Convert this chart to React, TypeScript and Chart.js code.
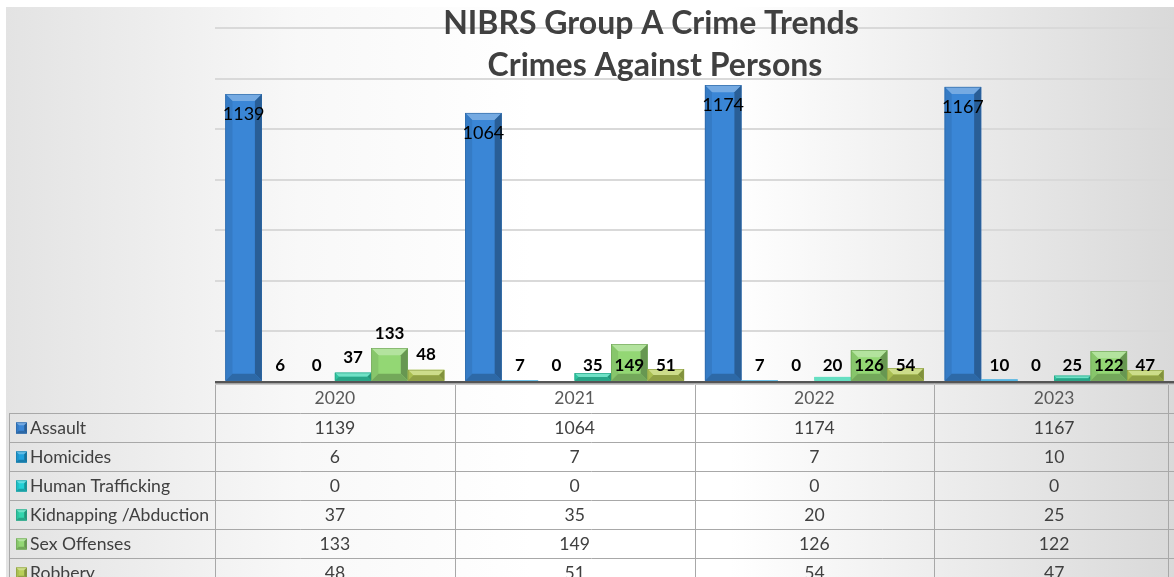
import React, { useEffect, useRef } from "react";
import { Chart, registerables } from "chart.js";

Chart.register(...registerables);

// ---------- data ----------
const years = ["2020", "2021", "2022", "2023"];
const seriesNames = ["Assault", "Homicides", "Human Trafficking", "Kidnapping /Abduction", "Sex Offenses", "Robbery"];
const assault = [1139, 1064, 1174, 1167];
const homicides = [6, 7, 7, 10];
const humanTrafficking = [0, 0, 0, 0];
const kidnapping = [37, 35, 20, 25];
const sexOffenses = [133, 149, 126, 122];
const robbery = [48, 51, 54, 47];
const seriesValues = [assault, homicides, humanTrafficking, kidnapping, sexOffenses, robbery];
const seriesColors = ["#3a86d6", "#1fa0dc", "#22d0d6", "#33d4ad", "#93d774", "#b8cf58"];
const titleLines = ["NIBRS Group A Crime Trends", "Crimes Against Persons"];
const yMax = 1400;
const yStep = 200;
// years whose small-bar labels sit just above the bars (others share a common row)
const raisedLabelYears = ["2020"];

const FONT = "Lato, 'Open Sans', sans-serif";

function hexToRgb(h: string) {
  const n = parseInt(h.slice(1), 16);
  return [(n >> 16) & 255, (n >> 8) & 255, n & 255];
}
function mix(h: string, target: number, t: number) {
  const [r, g, b] = hexToRgb(h);
  const f = (c: number) => Math.round(c + (target - c) * t);
  return `rgb(${f(r)},${f(g)},${f(b)})`;
}

function drawBevelRect(ctx: CanvasRenderingContext2D, x0: number, y0: number, x1: number, y1: number, color: string, bMax: number) {
  const w = x1 - x0;
  const h = y1 - y0;
  if (h <= 0.5 || w <= 0) return;
  ctx.save();
  ctx.fillStyle = color;
  ctx.fillRect(x0, y0, w, h);
  if (h < 4) {
    ctx.fillStyle = mix(color, 255, 0.25);
    ctx.fillRect(x0, y0, w, h);
    ctx.restore();
    return;
  }
  const b = Math.max(0.5, Math.min(bMax, h / 2, w / 4));
  const poly = (pts: number[][], fill: string) => {
    ctx.beginPath();
    ctx.moveTo(pts[0][0], pts[0][1]);
    for (let i = 1; i < pts.length; i++) ctx.lineTo(pts[i][0], pts[i][1]);
    ctx.closePath();
    ctx.fillStyle = fill;
    ctx.fill();
  };
  // top (light)
  poly([[x0, y0], [x1, y0], [x1 - b, y0 + b], [x0 + b, y0 + b]], mix(color, 255, 0.3));
  // left (slightly dark)
  poly([[x0, y0], [x0 + b, y0 + b], [x0 + b, y1 - b], [x0, y1]], mix(color, 0, 0.08));
  // right (dark)
  poly([[x1, y0], [x1, y1], [x1 - b, y1 - b], [x1 - b, y0 + b]], mix(color, 0, 0.3));
  // bottom (dark)
  poly([[x0, y1], [x1, y1], [x1 - b, y1 - b], [x0 + b, y1 - b]], mix(color, 0, 0.22));
  ctx.strokeStyle = mix(color, 0, 0.25);
  ctx.lineWidth = 0.6;
  ctx.strokeRect(x0 + 0.3, y0 + 0.3, w - 0.6, h - 0.6);
  ctx.restore();
}

const backgroundPlugin = {
  id: "bgPlugin",
  beforeDraw(chart: any) {
    const { ctx, width, height } = chart;
    ctx.save();
    ctx.fillStyle = "#ffffff";
    ctx.fillRect(0, 0, width, height);
    const g = ctx.createLinearGradient(6, 0, width, 0);
    g.addColorStop(0, "#e3e3e3");
    g.addColorStop(0.25, "#f8f8f8");
    g.addColorStop(0.45, "#ffffff");
    g.addColorStop(0.62, "#ffffff");
    g.addColorStop(1, "#d9d9d9");
    ctx.fillStyle = g;
    ctx.fillRect(6, 7, width - 6, height - 7);
    ctx.restore();
  },
};

const barsPlugin = {
  id: "barsPlugin",
  afterDatasetsDraw(chart: any) {
    const ctx: CanvasRenderingContext2D = chart.ctx;
    const yScale = chart.scales.y;
    const baseline = yScale.getPixelForValue(0);
    chart.data.datasets.forEach((ds: any, di: number) => {
      const meta = chart.getDatasetMeta(di);
      meta.data.forEach((el: any) => {
        const p = el.getProps(["x", "y", "base", "width"], true);
        const x0 = p.x - p.width / 2;
        const x1 = p.x + p.width / 2;
        const top = Math.min(p.y, p.base);
        const bot = Math.max(p.y, p.base);
        drawBevelRect(ctx, x0, top, x1, bot, seriesColors[di], 7);
      });
    });
    // labels
    ctx.save();
    ctx.textAlign = "center";
    ctx.textBaseline = "middle";
    ctx.fillStyle = "#000000";
    chart.data.datasets.forEach((ds: any, di: number) => {
      const meta = chart.getDatasetMeta(di);
      meta.data.forEach((el: any, i: number) => {
        const v = ds.data[i];
        const p = el.getProps(["x", "y"], true);
        let ly: number;
        if (di === 0) {
          ctx.font = `400 18px ${FONT}`;
          ly = p.y + 20;
        } else {
          ctx.font = `700 17px ${FONT}`;
          ly = raisedLabelYears.includes(years[i]) ? Math.min(baseline - 16, p.y - 15) : baseline - 16;
        }
        ctx.fillText(String(v), p.x, ly);
      });
    });
    ctx.restore();
  },
};

const tablePlugin = {
  id: "tablePlugin",
  afterDraw(chart: any) {
    const ctx: CanvasRenderingContext2D = chart.ctx;
    const xs = chart.scales.x;
    const area = chart.chartArea;
    const baseline = chart.scales.y.getPixelForValue(0);
    const headerH = 31;
    const rowH = 29;
    const left = 9;
    const right = chart.width;
    const bottom = chart.height;
    const half = (xs.getPixelForValue(1) - xs.getPixelForValue(0)) / 2;
    ctx.save();
    ctx.strokeStyle = "#a8a8a8";
    ctx.lineWidth = 1;
    // vertical lines
    const bounds = years.map((_, i) => xs.getPixelForValue(i) - half);
    bounds.forEach((bx) => {
      ctx.beginPath();
      ctx.moveTo(Math.round(bx) + 0.5, baseline + 1);
      ctx.lineTo(Math.round(bx) + 0.5, bottom);
      ctx.stroke();
    });
    ctx.beginPath();
    ctx.moveTo(1168.5, baseline + 1);
    ctx.lineTo(1168.5, bottom);
    ctx.stroke();
    ctx.beginPath();
    ctx.moveTo(left + 0.5, baseline + headerH);
    ctx.lineTo(left + 0.5, bottom);
    ctx.stroke();
    // light line under baseline
    ctx.strokeStyle = "#c8c8c8";
    ctx.beginPath();
    ctx.moveTo(area.left, baseline + 2.5);
    ctx.lineTo(right, baseline + 2.5);
    ctx.stroke();
    ctx.strokeStyle = "#a8a8a8";
    // horizontal lines
    for (let r = 0; r < seriesNames.length; r++) {
      const y = Math.round(baseline + headerH + r * rowH) + 0.5;
      ctx.beginPath();
      ctx.moveTo(left, y);
      ctx.lineTo(right, y);
      ctx.stroke();
    }
    // header text
    ctx.textAlign = "center";
    ctx.textBaseline = "middle";
    ctx.font = `400 17.5px ${FONT}`;
    ctx.fillStyle = "#595959";
    years.forEach((yr, i) => {
      ctx.fillText(yr, xs.getPixelForValue(i), baseline + headerH / 2 + 1);
    });
    // rows
    seriesNames.forEach((name, r) => {
      const cy = baseline + headerH + r * rowH + rowH / 2 + 1;
      drawBevelRect(ctx, 16, cy - 6, 27, cy + 5, seriesColors[r], 3);
      ctx.textAlign = "left";
      ctx.fillStyle = "#404040";
      ctx.font = `400 17.6px ${FONT}`;
      ctx.fillText(name, 30, cy);
      ctx.textAlign = "center";
      seriesValues[r].forEach((v, i) => {
        ctx.fillText(String(v), xs.getPixelForValue(i), cy);
      });
    });
    // title
    ctx.textAlign = "center";
    ctx.textBaseline = "alphabetic";
    ctx.fillStyle = "#404040";
    ctx.font = `700 32px ${FONT}`;
    ctx.fillText(titleLines[0], 651, 34);
    ctx.fillText(titleLines[1], 655, 76);
    ctx.restore();
  },
};

export default function App() {
  const ref = useRef<HTMLCanvasElement>(null);
  useEffect(() => {
    document.body.style.margin = "0";
    const canvas = ref.current;
    if (!canvas) return;
    const chart = new Chart(canvas, {
      type: "bar",
      data: {
        labels: years,
        datasets: seriesNames.map((name, i) => ({
          label: name,
          data: seriesValues[i],
          backgroundColor: "rgba(0,0,0,0)",
          borderWidth: 0,
          categoryPercentage: 0.913,
          barPercentage: 1,
        })),
      },
      options: {
        responsive: false,
        animation: false,
        devicePixelRatio: 1,
        layout: { padding: { left: 215, right: 0, top: 28, bottom: 195 } },
        plugins: {
          legend: { display: false },
          title: { display: false },
          tooltip: { enabled: false },
        },
        scales: {
          x: { display: false },
          y: {
            min: 0,
            max: yMax,
            ticks: { display: false, stepSize: yStep },
            border: { display: false },
            grid: {
              drawTicks: false,
              color: (c: any) => (c.tick && c.tick.value === 0 ? "#555555" : "#d9d9d9"),
              lineWidth: (c: any) => (c.tick && c.tick.value === 0 ? 2.5 : 2),
            },
            afterFit: (s: any) => {
              s.width = 0;
            },
          },
        },
      },
      plugins: [backgroundPlugin, barsPlugin, tablePlugin],
    });
    return () => chart.destroy();
  }, []);
  return (
    <div style={{ width: 1174, height: 577 }}>
      <canvas ref={ref} width={1174} height={577} style={{ display: "block" }} />
    </div>
  );
}
